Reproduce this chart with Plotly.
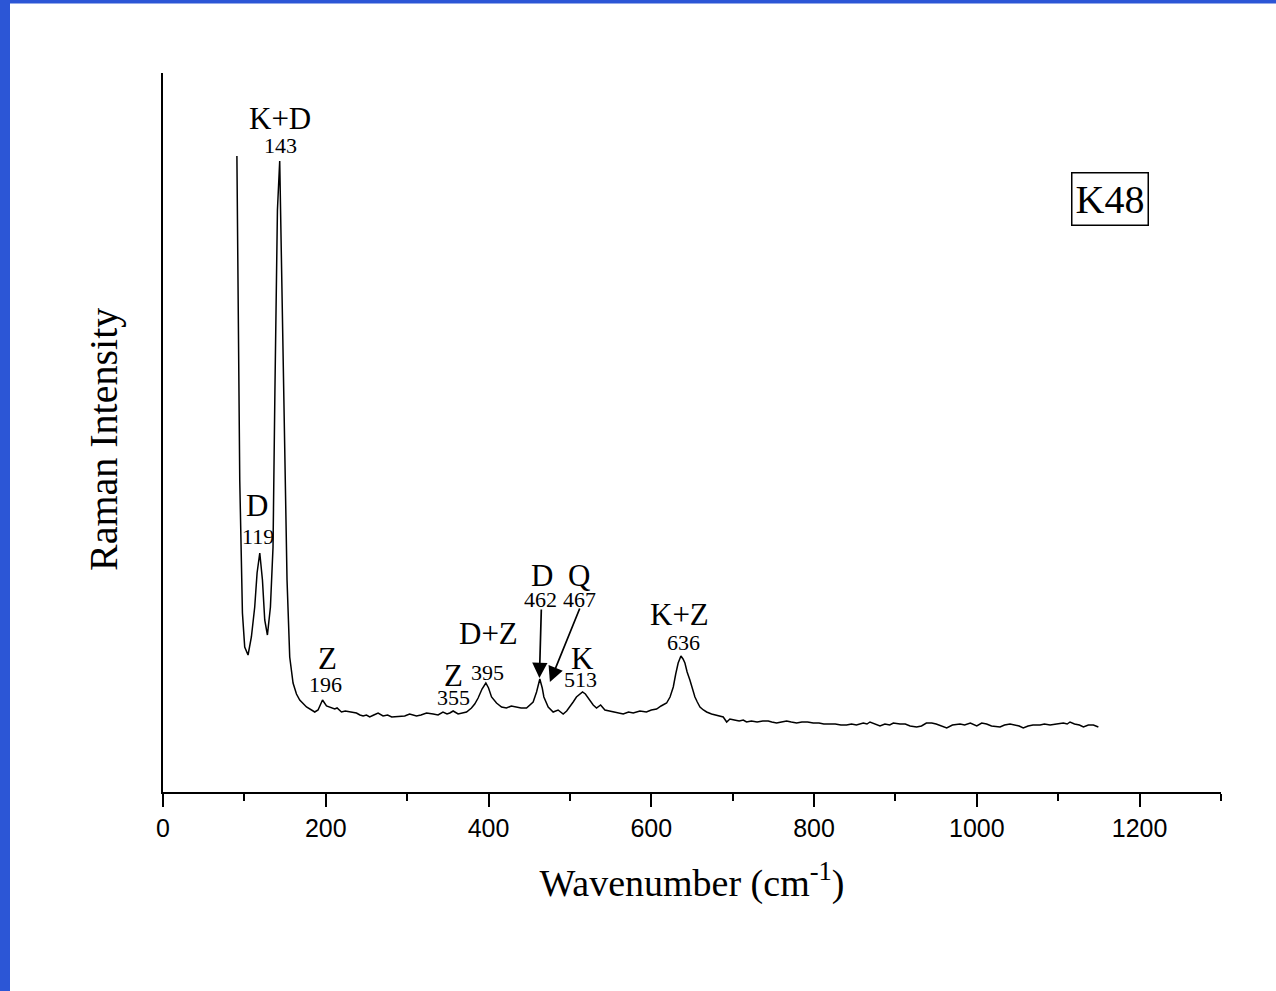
import plotly.graph_objects as go

# ---- data ----
wavenumber = [90.8, 94.3, 97.6, 100.4, 104.5, 108.6, 112.7, 115.6, 118.9, 122.2, 125.0, 128.3, 132.0, 135.2,
              137.5, 139.4, 140.6, 143.4, 145.5, 147.5, 149.6, 152.4, 155.7, 159.8, 164, 168.0, 176.3, 182,
              186.5, 190.5, 193.5, 196.0, 200.9, 207.0, 211.0, 213.9, 219.3, 224, 229.5, 237.7, 242, 245.9,
              250, 254.0, 259, 264.3, 270.4, 276, 281, 291, 297, 303, 311.5, 317, 323.8, 332, 338, 344, 349,
              352.4, 356.5, 362.6, 368, 373, 379, 383, 387.2, 392, 396.7, 400, 403.7, 409.8, 416, 422, 428,
              434.4, 440, 446.7, 451, 454.8, 459, 463, 466, 468, 473.3, 479.4, 485.5, 491.7, 496, 500, 504,
              508, 512, 515.5, 519, 522.4, 528.6, 532.7, 537.7, 543, 548, 553.2, 559, 565.5, 572, 577.8, 586,
              594, 600, 606.5, 612, 618.8, 623, 627, 630, 633, 636.4, 639, 641.3, 644, 647.4, 650.5, 653.6,
              656.5, 659.8, 664, 668, 674, 680.3, 684, 688.4, 692.6, 696.6, 702, 708, 713, 717, 723, 730,
              737, 743.7, 748, 754, 760, 766.3, 772, 778.6, 785, 792, 799, 806, 812, 819.6, 826, 833, 840,
              846, 852, 860.5, 865, 868.7, 874, 881, 887, 893, 897.4, 905.6, 912, 918, 926, 932, 938, 944.6,
              950, 956, 963, 970, 979.3, 985, 992, 999.9, 1006, 1012, 1018, 1028.5, 1034, 1040.8, 1047, 1052,
              1057, 1063, 1069, 1077.7, 1083, 1090, 1098, 1106.3, 1111, 1114.5, 1120, 1126, 1131, 1137,
              1143.2, 1146, 1149.3]
intensity = [636, 312, 179, 145, 137, 155, 185, 219, 239, 212, 172, 157, 185, 245,
             400, 532, 582, 631, 532, 420, 312, 212, 135, 109, 98, 92, 85, 82,
             80, 82, 88, 92, 86, 84, 83, 84, 80, 81, 80, 79, 77, 76,
             77, 75, 77, 79, 76, 77, 75, 76, 76, 78, 76, 77, 79, 78, 77, 80, 78,
             79, 81, 78, 79, 80, 84, 88, 94, 103, 109, 104, 95, 89, 85, 84, 86,
             85, 84, 84, 87, 90, 100, 113, 104, 95, 85, 80, 82, 78, 81, 85, 90,
             95, 98, 100, 98, 94, 87, 84, 87, 82, 81, 80, 79, 78, 80, 79, 81,
             80, 82, 83, 86, 89, 95, 105, 118, 129, 136, 133, 129, 120, 112, 102, 95,
             90, 85, 82, 80, 78, 77, 76, 75, 70, 73, 72, 71, 72, 70, 71, 70,
             71, 71, 70, 69, 70, 71, 70, 69, 70, 70, 69, 69, 68, 68, 68, 67, 67,
             68, 67, 69, 68, 70, 68, 66, 68, 67, 69, 68, 68, 66, 65, 66, 69, 69,
             68, 66, 64, 67, 68, 67, 69, 66, 69, 68, 66, 65, 67, 68, 67, 66,
             64, 66, 67, 67, 68, 67, 68, 69, 68, 70, 68, 67, 65, 67,
             67, 66, 65]

# peak labels: name, wavenumber text
peak_names = ["K+D", "D", "Z", "Z", "D+Z", "D", "Q", "K", "K+Z"]
peak_values = ["143", "119", "196", "355", "395", "462", "467", "513", "636"]
sample_name = "K48"
x_ticks = [0, 200, 400, 600, 800, 1000, 1200]

# ---- layout constants ----
W, H = 1276, 991
ML, MR, MT, MB = 163, 55, 73, 199
SERIF = "Liberation Serif, Times New Roman, serif"
SANS = "Liberation Sans, Arial, sans-serif"
BLUE = "#2c56d6"

# label placements (data coords) for names and numbers
name_pos = [(143.8, 674), (116.1, 287), (202.1, 134), (356.7, 117), (399.7, 159),
            (465.3, 217), (511.2, 217), (515.7, 134), (635.2, 178)]
num_pos = [(143.8, 647), (117.1, 256), (200.1, 108), (356.7, 95), (398.7, 120),
           (464.2, 193), (511.2, 193), (513.4, 113), (639.3, 150)]

fig = go.Figure()
fig.add_trace(go.Scatter(x=wavenumber, y=intensity, mode="lines",
                         line=dict(color="black", width=1.5), hoverinfo="skip"))

ann = []
for name, val, (nx, ny), (vx, vy) in zip(peak_names, peak_values, name_pos, num_pos):
    ann.append(dict(x=nx, y=ny, xref="x", yref="y", text=name, showarrow=False,
                    font=dict(family=SERIF, size=31, color="black"), yanchor="middle"))
    ann.append(dict(x=vx, y=vy, xref="x", yref="y", text=val, showarrow=False,
                    font=dict(family=SERIF, size=22, color="black"), yanchor="middle"))

# arrows for D 462 and Q 467
ann.append(dict(x=462.5, y=114, ax=464.9, ay=184, xref="x", yref="y", axref="x", ayref="y",
                text="", showarrow=True, arrowhead=2, arrowsize=1.8, arrowwidth=1.7, arrowcolor="black"))
ann.append(dict(x=475.4, y=110, ax=512.8, ay=185, xref="x", yref="y", axref="x", ayref="y",
                text="", showarrow=True, arrowhead=2, arrowsize=1.8, arrowwidth=1.7, arrowcolor="black"))

# sample box
ann.append(dict(x=1164.2, y=593, xref="x", yref="y", text=sample_name, showarrow=False,
                font=dict(family=SERIF, size=40, color="black"), bordercolor="black",
                borderwidth=1.5, borderpad=3, bgcolor="white"))

# y axis title
ann.append(dict(x=(103 - ML) / (W - ML - MR), y=(H - MB - 440) / (H - MT - MB),
                xref="paper", yref="paper", xanchor="center", yanchor="middle",
                text="Raman Intensity", textangle=-90,
                showarrow=False, font=dict(family=SERIF, size=40, color="black")))

# blue frame stripes (top and left)
pw, ph = W - ML - MR, H - MT - MB
shapes = [
    dict(type="rect", xref="paper", yref="paper", x0=-ML / pw, x1=(10 - ML) / pw,
         y0=-MB / ph, y1=1 + MT / ph, fillcolor=BLUE, line=dict(width=0), layer="below"),
    dict(type="rect", xref="paper", yref="paper", x0=-ML / pw, x1=1 + MR / pw,
         y0=1 + (MT - 3.5) / ph, y1=1 + MT / ph, fillcolor=BLUE, line=dict(width=0), layer="below"),
]

fig.update_layout(
    width=W, height=H, margin=dict(l=ML, r=MR, t=MT, b=MB, pad=0),
    paper_bgcolor="white", plot_bgcolor="white", showlegend=False,
    annotations=ann, shapes=shapes,
    xaxis=dict(range=[0, 1300], tickvals=x_ticks, ticktext=[str(t) for t in x_ticks],
               ticks="outside", ticklen=13, tickwidth=2, tickcolor="black",
               showline=True, linecolor="black", linewidth=2, showgrid=False, zeroline=False,
               minor=dict(tickvals=[100, 300, 500, 700, 900, 1100, 1300], ticks="outside",
                          ticklen=7, tickwidth=2, tickcolor="black", showgrid=False),
               tickfont=dict(family=SANS, size=25, color="black"),
               title=dict(text="Wavenumber (cm<sup>-1</sup>)",
                          font=dict(family=SERIF, size=38, color="black"), standoff=28)),
    yaxis=dict(range=[0, 719], showline=True, linecolor="black", linewidth=2,
               showticklabels=False, ticks="", showgrid=False, zeroline=False),
)

fig.write_html("out.html")
